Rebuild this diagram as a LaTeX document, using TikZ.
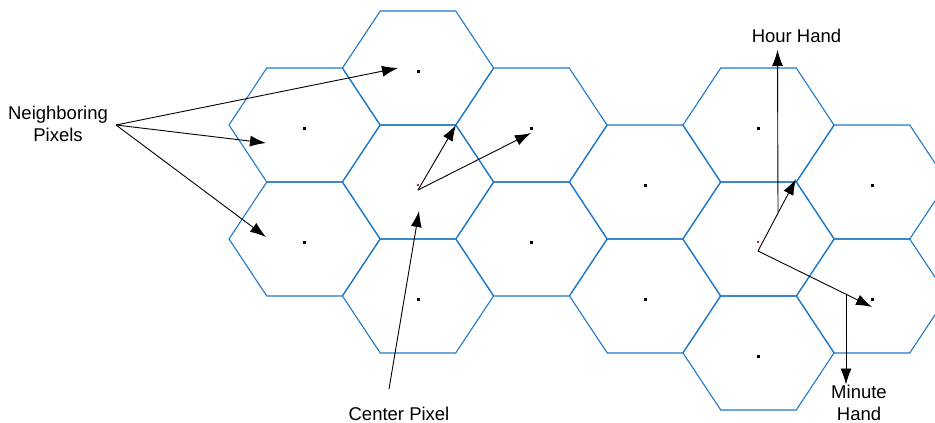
\documentclass[tikz,border=0pt]{standalone}
\usepackage{fontspec}
\setmainfont{Liberation Sans}
\usetikzlibrary{arrows.meta}
\definecolor{cellblue}{RGB}{30,120,200}
\definecolor{centrered}{RGB}{215,25,25}
\begin{document}
\begin{tikzpicture}[x=1pt,y=-1pt,
  hexcell/.style={draw=cellblue,line width=1.1pt,line join=miter},
  pixdot/.style={fill=black,draw=none,inner sep=0pt,minimum size=3pt},
  centredot/.style={fill=centrered,draw=none,inner sep=0pt,minimum size=2.8pt},
  pointer/.style={line width=0.9pt,-{Latex[length=16pt,width=11pt]}},
  tagtext/.style={font=\fontsize{18.5}{22}\selectfont,inner sep=0pt,align=center}]
\useasboundingbox (0,0) rectangle (935,423);

% hexagonal pixel grid (flat-topped cells)
\begin{scope}
  \clip (0,0) rectangle (935,423);
  \foreach \cx/\cy in {304.5/125, 304.5/239, 418/68, 418/182, 418/296,
                       531.5/125, 531.5/239, 645/182, 645/296,
                       758.5/125, 758.5/239, 758.5/353, 872/182, 872/296}
    \draw[hexcell] (\cx-75.5,\cy) -- (\cx-37.75,\cy-57) -- (\cx+37.75,\cy-57)
                   -- (\cx+75.5,\cy) -- (\cx+37.75,\cy+57) -- (\cx-37.75,\cy+57) -- cycle;
\end{scope}

% pixel centres
\foreach \cx/\cy/\n in {304.5/125/a, 304.5/239/b, 418/68/c, 418/296/d,
                       531.5/125/e, 531.5/239/f, 645/182/g, 645/296/h,
                       758.5/125/i, 758.5/353/j, 872/182/k, 872/296/l}
  \node[pixdot] (dot\n) at (\cx,\cy+3) {};
\node[centredot] (redA) at (418,185) {};
\node[centredot] (redB) at (758,242) {};

% labels
\node[tagtext,anchor=north] (nbr) at (58,105.5) {Neighboring\\Pixels};
\node[tagtext,anchor=base] (cpl) at (399,420.5) {Center Pixel};
\node[tagtext,anchor=base] (hourlbl) at (796.5,42) {Hour Hand};
\node[tagtext,anchor=north] (minlbl) at (859,384.5) {Minute\\Hand};

% connector end points
\coordinate (nbrfoot) at (116,125);
\coordinate (nA) at (398,68);
\coordinate (nB) at (266,143);
\coordinate (nC) at (266,237);
\coordinate (cpfoot) at (389,389);
\coordinate (cptip) at (419,211);
\coordinate (hubA) at (418,190);
\coordinate (tipA1) at (456,125);
\coordinate (tipA2) at (531,133);
\coordinate (hubB) at (758,251);
\coordinate (hourtip) at (796,179);
\coordinate (mintip) at (872,307);
\coordinate (houron) at (778,212);
\coordinate (houraim) at (777.5,50);
\coordinate (minon) at (846,295);

% neighbour pointers
\draw[pointer] (nbrfoot) -- (nA);
\draw[pointer] (nbrfoot) -- (nB);
\draw[pointer] (nbrfoot) -- (nC);
% centre pixel pointer
\draw[pointer] (cpfoot) -- (cptip);
% clock hands of the centre pixel
\draw[pointer] (hubA) -- (tipA1);
\draw[pointer] (hubA) -- (tipA2);
% clock hands of the second pixel
\draw[pointer] (hubB) -- (hourtip);
\draw[pointer] (hubB) -- (mintip);
% hand callouts
\draw[pointer] (houron) -- (houraim);
\draw[pointer] (minon) -- (minlbl.north -| minon);
\end{tikzpicture}
\end{document}
